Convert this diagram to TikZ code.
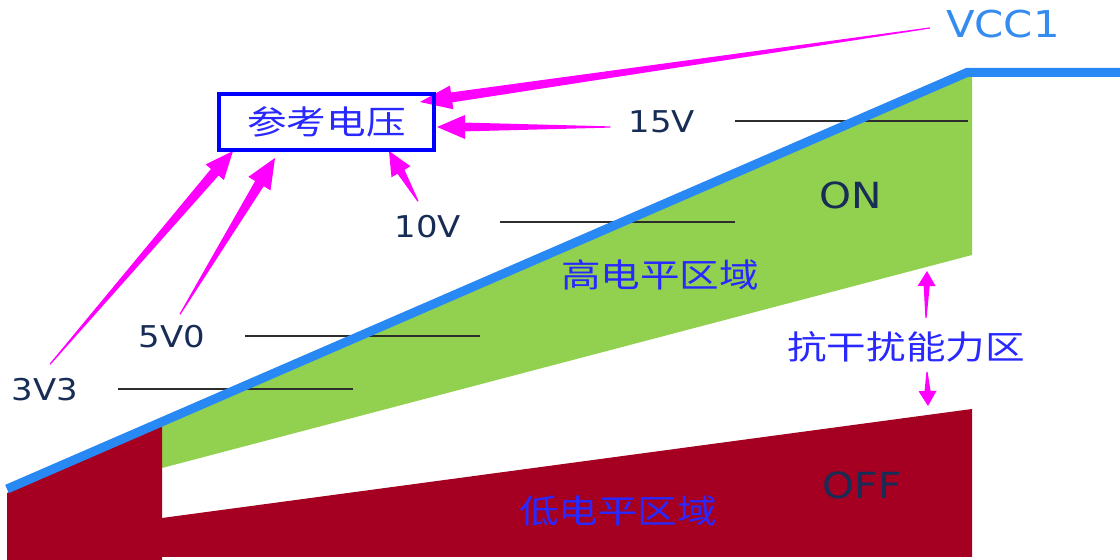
\documentclass[tikz,border=0pt]{standalone}
\usepackage{fontspec}
\usetikzlibrary{calc}
\newfontfamily\labfont[FakeStretch=1.13]{DejaVu Sans}
\newfontfamily\cjkfont[FakeStretch=1.2]{Noto Sans CJK SC}
\definecolor{navy}{RGB}{23,45,85}
\definecolor{vccblue}{RGB}{52,140,240}
\definecolor{linkblue}{RGB}{40,137,245}
\definecolor{pureblue}{RGB}{0,0,255}
\definecolor{cjkblue}{RGB}{40,40,255}
\definecolor{mag}{RGB}{255,0,255}
\definecolor{okgreen}{RGB}{146,208,80}
\definecolor{offred}{RGB}{165,0,33}
\definecolor{levelgray}{RGB}{45,45,45}
\pgfdeclarelayer{back}
\pgfsetlayers{back,main}
% tail, tip, shaft half-width, head half-width, head length
\newcommand\taperarrow[5]{%
  \coordinate (tb) at ($(#2)!#5!(#1)$);
  \fill[arrowfill] ($(#1)!0.3pt!90:(#2)$) -- ($(tb)!#3!90:(#2)$) -- ($(tb)!#4!90:(#2)$)
    -- (#2) -- ($(tb)!#4!-90:(#2)$) -- ($(tb)!#3!-90:(#2)$) -- ($(#1)!0.3pt!-90:(#2)$) -- cycle;}
\begin{document}
\begin{tikzpicture}[x=0.5pt,y=-0.5pt,
  lab/.style={font=\labfont\fontsize{15}{15}\selectfont, text=navy, inner sep=0},
  big/.style={font=\labfont\fontsize{18}{18}\selectfont, text=navy, inner sep=0},
  cjk/.style={font=\cjkfont\fontsize{16.5}{16.5}\selectfont, text=cjkblue, inner sep=0},
  refbox/.style={draw=pureblue, line width=2pt, minimum width=107.5pt, minimum height=28pt, inner sep=0, outer sep=0},
  level/.style={draw=levelgray, line width=0.8pt},
  arrowfill/.style={fill=mag, draw=none},
  vline/.style={draw=linkblue, line width=4.5pt, line join=miter}]
\useasboundingbox (0,0) rectangle (1120,560);

% text nodes
\node[lab] (v15) at (662,122) {15V};
\node[lab] (v10) at (428,227) {10V};
\node[lab] (v5) at (172,337) {5V0};
\node[lab] (v3) at (45,390) {3V3};
\node[big, font=\labfont\fontsize{18.5}{18.5}\selectfont, text=vccblue] (vcc) at (1003,24) {VCC1};
\node[big] (on) at (851,195) {ON};
\node[big] (off) at (862,485) {OFF};
\node[cjk] (hi) at (660,275) {高电平区域};
\node[cjk] (lo) at (618,511) {低电平区域};
\node[cjk] (aa) at (906,347) {抗干扰能力区};
\node[refbox, font=\cjkfont\fontsize{16.5}{16.5}\selectfont, text=cjkblue] (ref) at (326.5,122) {参考电压};

% arrow ends
\coordinate (tVcc) at ($(vcc.west)+(-16,4)$);
\coordinate (t15) at ($(v15.west)+(-18,5)$);
\coordinate (t10) at ($(v10.north)+(-10,-14)$);
\coordinate (t5) at ($(v5.north)+(8,-11)$);
\coordinate (t3) at ($(v3.north)+(5,-14)$);
\coordinate (tUp) at ($(aa.center)+(20,-29)$);
\coordinate (tDn) at ($(aa.center)+(21,25)$);
\coordinate (hVcc) at ($(ref.north east)+(-14,8)$);
\coordinate (h15) at ($(ref.east)+(3,5)$);
\coordinate (h10) at ($(ref.south east)+(-45,1)$);
\coordinate (h5) at ($(ref.south west)+(56,8)$);
\coordinate (h3) at ($(ref.south west)+(14,1)$);
\coordinate (gapTop) at (927,271);
\coordinate (gapBot) at (928,406);

\begin{pgfonlayer}{back}
  % zones
  \fill[okgreen] (162,420) -- (972,70) -- (972,255) -- (162,468) -- cycle;
  \fill[offred] (7,493) -- (162,426) -- (162,518) -- (972,409) -- (972,557) -- (162,557) -- (162,560) -- (7,560) -- cycle;
  % level marks
  \draw[level] (735,121) -- (968,121);
  \draw[level] (500,222) -- (735,222);
  \draw[level] (245,336) -- (480,336);
  \draw[level] (118,389) -- (353,389);
  % supply ramp
  \draw[vline] (7,489) -- (967,72.5) -- (1120,72.5);
  % arrows
  \taperarrow{tVcc}{hVcc}{2.5pt}{6pt}{16pt}
  \taperarrow{t15}{h15}{2.2pt}{6pt}{14pt}
  \taperarrow{t10}{h10}{2pt}{5.5pt}{12pt}
  \taperarrow{t5}{h5}{2.5pt}{6.5pt}{15pt}
  \taperarrow{t3}{h3}{2.5pt}{6pt}{14pt}
  \taperarrow{tUp}{gapTop}{1.5pt}{4.5pt}{7.5pt}
  \taperarrow{tDn}{gapBot}{1.5pt}{4.5pt}{7.5pt}
\end{pgfonlayer}
\end{tikzpicture}
\end{document}
